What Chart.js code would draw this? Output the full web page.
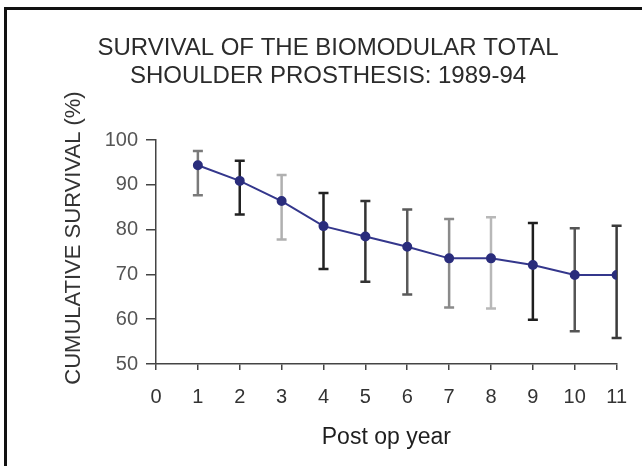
<!DOCTYPE html>
<html>
<head>
<meta charset="utf-8">
<script src="https://cdn.jsdelivr.net/npm/chart.js@4.4.1/dist/chart.umd.min.js"></script>
<style>
  body { margin: 0; background: #fff; }
</style>
</head>
<body>
<canvas id="survivalChart" width="642" height="466"></canvas>
<script>
// Data kurva survival
const years = [1, 2, 3, 4, 5, 6, 7, 8, 9, 10, 11];
const survival = [94.4, 90.9, 86.4, 80.8, 78.5, 76.2, 73.6, 73.6, 72.1, 69.9, 69.9];
const upperCI = [97.6, 95.4, 92.2, 88.2, 86.4, 84.5, 82.4, 82.8, 81.5, 80.3, 80.9];
const lowerCI = [87.7, 83.4, 77.8, 71.2, 68.4, 65.5, 62.6, 62.4, 59.9, 57.3, 55.8];
const yTicks = [50, 60, 70, 80, 90, 100];

// warna tiap error bar (di gambar asli beda-beda)
const barColors = ['#7a7a7a', '#222', '#b0b0b0', '#222', '#333', '#5a5a5a',
                   '#8a8a8a', '#b8b8b8', '#1e1e1e', '#555', '#3a3a3a'];

const FONT = '"Liberation Sans", Arial, sans-serif';

// plugin: garis error bar + bingkai + judul sumbu y
const errorBars = {
    id: 'errorBars',
    beforeDatasetsDraw(chart) {
        const { ctx, scales: { x, y } } = chart;
        ctx.save();
        ctx.lineWidth = 2.5;
        years.forEach((yr, i) => {
            const px = x.getPixelForValue(yr);
            const top = y.getPixelForValue(upperCI[i]);
            const bot = y.getPixelForValue(lowerCI[i]);
            ctx.strokeStyle = barColors[i];
            ctx.beginPath();
            ctx.moveTo(px, top);
            ctx.lineTo(px, bot);
            ctx.moveTo(px - 5, top);
            ctx.lineTo(px + 5, top);
            ctx.moveTo(px - 5, bot);
            ctx.lineTo(px + 5, bot);
            ctx.stroke();
        });
        ctx.restore();
    },
    afterDraw(chart) {
        const ctx = chart.ctx;
        ctx.save();
        // bingkai kiri & atas
        ctx.fillStyle = '#111';
        ctx.fillRect(4, 7, 3, 466);
        ctx.fillRect(4, 7, 642, 3);
        // judul sumbu y
        ctx.translate(74, 238);
        ctx.rotate(-Math.PI / 2);
        ctx.font = '22px ' + FONT;
        ctx.fillStyle = '#333';
        ctx.textAlign = 'center';
        ctx.textBaseline = 'middle';
        ctx.fillText('CUMULATIVE SURVIVAL (%)', 0, 0);
        ctx.restore();
    }
};

const ctx = document.getElementById('survivalChart').getContext('2d');
const survivalChart = new Chart(ctx, {
    type: 'line',
    data: {
        datasets: [{
            data: years.map((yr, i) => ({ x: yr, y: survival[i] })),
            borderColor: '#34378c',
            borderWidth: 2,
            pointBackgroundColor: '#2a2d7c',
            pointBorderColor: '#2a2d7c',
            pointRadius: 4,
            tension: 0
        }]
    },
    options: {
        responsive: false,
        animation: false,
        layout: { padding: { left: 36, right: 22, top: 0, bottom: 0 } },
        plugins: {
            legend: { display: false },
            tooltip: { enabled: false },
            title: {
                display: true,
                text: ['SURVIVAL OF THE BIOMODULAR TOTAL', 'SHOULDER PROSTHESIS: 1989-94'],
                color: '#2b2b2b',
                font: { family: FONT, size: 24, weight: 'normal', lineHeight: 1.17 },
                padding: { top: 34, bottom: 50 }
            }
        },
        scales: {
            x: {
                type: 'linear',
                min: 0,
                max: 11,
                ticks: { stepSize: 1, color: '#333', font: { family: FONT, size: 20 }, padding: 15 },
                grid: { drawOnChartArea: false, tickLength: 6, color: '#444', lineWidth: 1.5 },
                border: { display: true, color: '#444', width: 1.5 },
                title: {
                    display: true,
                    text: 'Post op year',
                    color: '#1e1e1e',
                    font: { family: FONT, size: 23, weight: 'normal' },
                    padding: { top: 0, bottom: 15 }
                },
                afterFit(scale) { scale.height = 102; }
            },
            y: {
                min: 50,
                max: 100,
                afterBuildTicks(scale) { scale.ticks = yTicks.map(v => ({ value: v })); },
                ticks: { color: '#555', font: { family: FONT, size: 20 }, padding: 8 },
                grid: { drawOnChartArea: false, tickLength: 10, color: '#444', lineWidth: 1.5 },
                border: { display: true, color: '#444', width: 1.5 },
                afterFit(scale) { scale.width = 120; }
            }
        }
    },
    plugins: [errorBars]
});
</script>
</body>
</html>
